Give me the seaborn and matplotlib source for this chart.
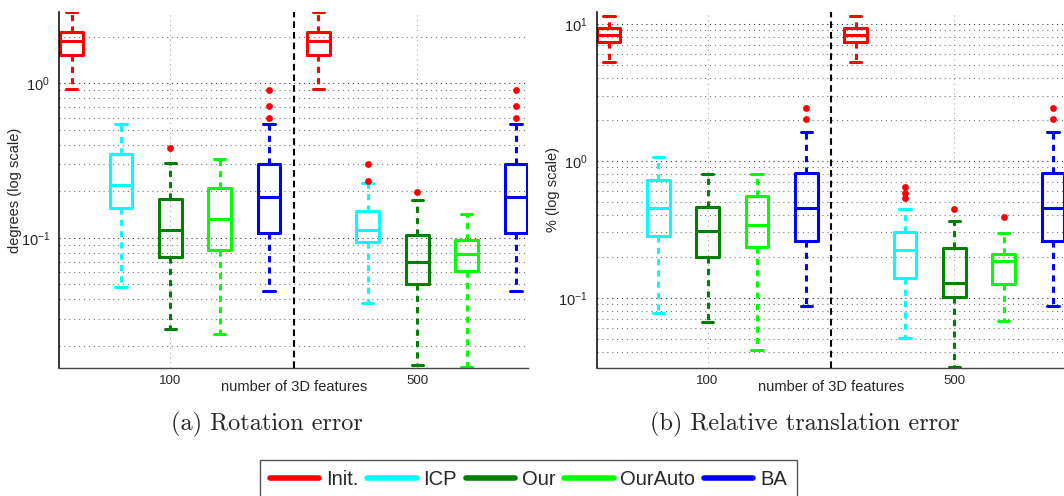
import pandas as pd
import matplotlib.pyplot as plt
import seaborn as sns
from matplotlib.lines import Line2D
from matplotlib.ticker import NullFormatter

methods = ['Init.', 'ICP', 'Our', 'OurAuto', 'BA']
colors = ['#ff0000', '#00ffff', '#008000', '#00ff00', '#0000ff']
group_ticks = [3, 8]
group_labels = ['100', '500']

# rotation error (degrees), boxes: Init., ICP, Our, OurAuto, BA for 100 then 500
rot_low = [0.923, 0.0477, 0.0255, 0.0239, 0.0454, 0.923, 0.0376, 0.0151, 0.0145, 0.0454]
rot_q1 = [1.525, 0.156, 0.0753, 0.084, 0.107, 1.525, 0.0934, 0.0505, 0.0611, 0.107]
rot_med = [1.88, 0.219, 0.113, 0.132, 0.184, 1.88, 0.112, 0.0693, 0.0780, 0.184]
rot_q3 = [2.166, 0.348, 0.178, 0.211, 0.299, 2.166, 0.149, 0.104, 0.0966, 0.299]
rot_high = [2.91, 0.545, 0.303, 0.322, 0.548, 2.91, 0.225, 0.177, 0.142, 0.548]
rot_out_pos = [3, 5, 5, 5, 7, 7, 8, 10, 10, 10]
rot_out_val = [0.379, 0.593, 0.716, 0.905, 0.234, 0.299, 0.199, 0.593, 0.716, 0.905]

# relative translation error (%)
tr_low = [5.27, 0.0772, 0.0664, 0.0415, 0.0870, 5.27, 0.051, 0.0312, 0.0679, 0.0870]
tr_q1 = [7.33, 0.284, 0.198, 0.234, 0.261, 7.33, 0.140, 0.102, 0.126, 0.261]
tr_med = [8.38, 0.452, 0.307, 0.340, 0.449, 8.38, 0.223, 0.128, 0.184, 0.449]
tr_q3 = [9.42, 0.723, 0.462, 0.553, 0.809, 9.42, 0.300, 0.231, 0.209, 0.809]
tr_high = [11.5, 1.059, 0.804, 0.800, 1.627, 11.5, 0.442, 0.362, 0.296, 1.627]
tr_out_pos = [5, 5, 7, 7, 7, 8, 9, 10, 10]
tr_out_val = [2.01, 2.44, 0.537, 0.578, 0.646, 0.445, 0.387, 2.01, 2.44]


def box_table(low, q1, med, q3, high):
    rows = []
    for i in range(len(low)):
        for v in (low[i], q1[i], med[i], q3[i], high[i]):
            rows.append({'pos': i + 1, 'method': methods[i % 5], 'value': v})
    return pd.DataFrame(rows)


sns.set_style('white')
plt.rcParams['font.family'] = ['Liberation Sans', 'DejaVu Sans']

fig = plt.figure(figsize=(10.64, 4.96), dpi=100)
ax1 = fig.add_axes([59.2 / 1064, 127.7 / 496, 469.1 / 1064, 356.6 / 496])
ax2 = fig.add_axes([596.5 / 1064, 127.7 / 496, 468.8 / 1064, 356.6 / 496])

panels = [
    (ax1, box_table(rot_low, rot_q1, rot_med, rot_q3, rot_high), rot_out_pos, rot_out_val,
     (0.0143, 2.91), 'degrees (log scale)', -0.079),
    (ax2, box_table(tr_low, tr_q1, tr_med, tr_q3, tr_high), tr_out_pos, tr_out_val,
     (0.0305, 12.3), '% (log scale)', -0.078),
]

for ax, df, out_pos, out_val, ylim, ylabel, ylab_x in panels:
    ax.set_yscale('log')
    sns.boxplot(data=df, x='pos', y='value', hue='method', hue_order=methods,
                palette=dict(zip(methods, colors)), native_scale=True, orient='x',
                fill=False, width=0.46, whis=(0, 100), linewidth=2.2,
                showfliers=False, legend=False, ax=ax,
                whiskerprops=dict(linestyle=(0, (2.0, 1.7))))
    sns.scatterplot(x=out_pos, y=out_val, color='#ff0000', s=24, linewidth=0,
                    ax=ax, zorder=4, legend=False)
    ax.axvline(5.5, color='k', lw=1.5, ls=(0, (3.2, 1.9)), zorder=3)

    ax.set_xlim(0.75, 10.25)
    ax.set_ylim(*ylim)
    ax.set_xticks(group_ticks, group_labels)
    ax.yaxis.set_minor_formatter(NullFormatter())

    ax.set_axisbelow(True)
    ax.grid(True, axis='y', which='major', color='#333333', lw=0.8, ls=(0, (1, 3.4)))
    ax.grid(True, axis='y', which='minor', color='#777777', lw=0.8, ls=(0, (1, 3.4)))
    ax.grid(True, axis='x', which='major', color='#aaaaaa', lw=0.8, ls=(0, (1, 3.4)))

    for side in ['top', 'right']:
        ax.spines[side].set_visible(False)
    ax.spines['left'].set_color('k')
    ax.spines['left'].set_linewidth(1.1)
    ax.spines['bottom'].set_color('#444444')
    ax.spines['bottom'].set_linewidth(1.0)

    ax.tick_params(axis='both', which='both', direction='in', color='k')
    ax.tick_params(axis='both', which='major', length=4)
    ax.tick_params(axis='y', which='minor', length=2)
    ax.tick_params(axis='y', labelsize=10.5, pad=6.5)
    ax.tick_params(axis='x', labelsize=9.5, pad=5)

    ax.set_xlabel('number of 3D features', fontsize=10.5)
    ax.xaxis.set_label_coords(0.5, -0.034)
    ax.set_ylabel(ylabel, fontsize=10.5)
    ax.yaxis.set_label_coords(ylab_x, 0.5)

fig.text(267 / 1064, 1 - 424 / 496, '(a) Rotation error', family='cmr10',
         fontsize=17.5, ha='center', va='center')
fig.text(805 / 1064, 1 - 424 / 496, '(b) Relative translation error', family='cmr10',
         fontsize=17.5, ha='center', va='center')

handles = [Line2D([], [], color=c, lw=4) for c in colors]
leg = fig.legend(handles, methods, loc='upper center',
                 bbox_to_anchor=(528.5 / 1064, 1 - 460 / 496), ncol=5,
                 fontsize=14.5, frameon=True, fancybox=False, framealpha=1,
                 edgecolor='#555555', handlelength=2.45, handletextpad=0.34,
                 columnspacing=0.43, borderpad=0.5, borderaxespad=0)
leg.get_frame().set_linewidth(1.0)

fig.savefig('out.png', dpi=100)
